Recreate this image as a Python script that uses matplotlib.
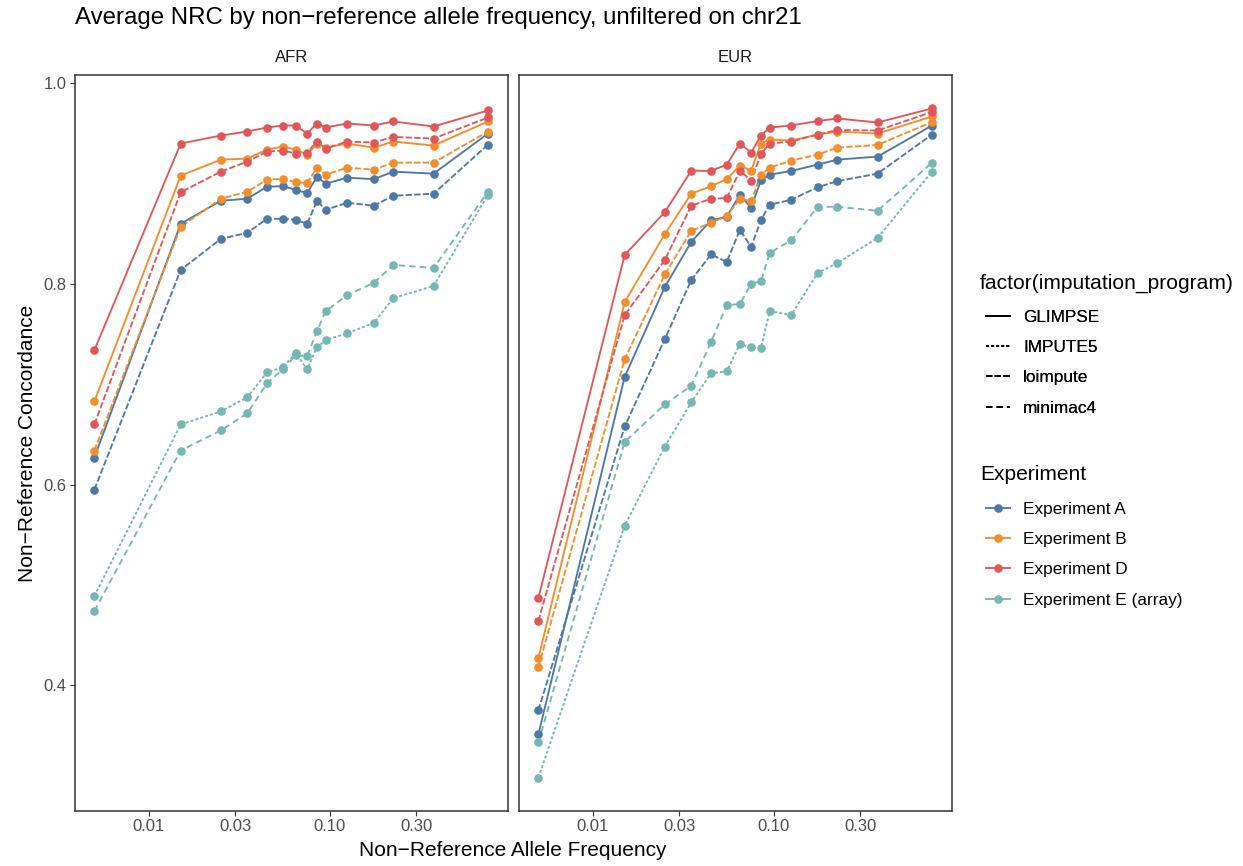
import numpy as np
import matplotlib.pyplot as plt
from matplotlib.lines import Line2D
from matplotlib.ticker import FixedLocator, FixedFormatter, NullLocator

plt.rcParams['font.family'] = ['Liberation Sans', 'DejaVu Sans']

# allele frequency bin midpoints
af_bins = [0.005, 0.015, 0.025, 0.035, 0.045, 0.055, 0.065, 0.075,
           0.085, 0.095, 0.125, 0.175, 0.225, 0.375, 0.75]

# mean NRC per bin, AFR
afr_a_glimpse = [0.627, 0.860, 0.883, 0.885, 0.897, 0.8975, 0.894, 0.8905, 0.907, 0.900, 0.906, 0.9045, 0.912, 0.910, 0.950]
afr_a_loimpute = [0.595, 0.814, 0.845, 0.851, 0.865, 0.865, 0.864, 0.860, 0.883, 0.874, 0.881, 0.878, 0.888, 0.890, 0.939]
afr_b_glimpse = [0.683, 0.908, 0.924, 0.925, 0.934, 0.937, 0.934, 0.929, 0.940, 0.936, 0.940, 0.936, 0.942, 0.938, 0.962]
afr_b_loimpute = [0.634, 0.857, 0.885, 0.892, 0.904, 0.905, 0.9015, 0.9005, 0.916, 0.909, 0.916, 0.914, 0.921, 0.921, 0.952]
afr_d_glimpse = [0.734, 0.940, 0.948, 0.952, 0.956, 0.958, 0.958, 0.950, 0.960, 0.956, 0.960, 0.958, 0.962, 0.957, 0.973]
afr_d_loimpute = [0.660, 0.8915, 0.912, 0.922, 0.932, 0.933, 0.930, 0.931, 0.942, 0.935, 0.942, 0.941, 0.9466, 0.945, 0.966]
afr_e_impute5 = [0.489, 0.660, 0.673, 0.687, 0.712, 0.717, 0.731, 0.715, 0.737, 0.744, 0.751, 0.761, 0.786, 0.798, 0.889]
afr_e_minimac4 = [0.474, 0.634, 0.654, 0.671, 0.701, 0.715, 0.729, 0.728, 0.753, 0.773, 0.789, 0.801, 0.819, 0.816, 0.892]

# mean NRC per bin, EUR
eur_a_glimpse = [0.351, 0.7075, 0.797, 0.842, 0.8634, 0.867, 0.889, 0.876, 0.9035, 0.909, 0.9127, 0.919, 0.924, 0.927, 0.958]
eur_a_loimpute = [0.375, 0.658, 0.745, 0.804, 0.8295, 0.822, 0.854, 0.837, 0.8637, 0.879, 0.884, 0.8965, 0.9025, 0.910, 0.949]
eur_b_glimpse = [0.427, 0.782, 0.8497, 0.890, 0.8975, 0.9045, 0.918, 0.913, 0.940, 0.944, 0.943, 0.949, 0.952, 0.950, 0.967]
eur_b_loimpute = [0.418, 0.725, 0.8096, 0.853, 0.861, 0.8677, 0.885, 0.8826, 0.909, 0.916, 0.923, 0.929, 0.936, 0.9386, 0.9615]
eur_d_glimpse = [0.487, 0.829, 0.8716, 0.913, 0.9127, 0.919, 0.940, 0.931, 0.948, 0.956, 0.958, 0.9625, 0.965, 0.961, 0.975]
eur_d_loimpute = [0.464, 0.769, 0.824, 0.878, 0.885, 0.8856, 0.913, 0.903, 0.9297, 0.940, 0.942, 0.949, 0.9535, 0.953, 0.9715]
eur_e_impute5 = [0.308, 0.559, 0.638, 0.682, 0.711, 0.713, 0.740, 0.737, 0.736, 0.773, 0.769, 0.811, 0.821, 0.846, 0.912]
eur_e_minimac4 = [0.343, 0.6425, 0.680, 0.6985, 0.742, 0.779, 0.780, 0.800, 0.803, 0.831, 0.8435, 0.877, 0.877, 0.873, 0.921]

experiments = ['Experiment A', 'Experiment B', 'Experiment D', 'Experiment E (array)']
programs = ['GLIMPSE', 'IMPUTE5', 'loimpute', 'minimac4']
x_ticks = [0.01, 0.03, 0.10, 0.30]
x_ticklabels = ['0.01', '0.03', '0.10', '0.30']
y_ticks = [0.4, 0.6, 0.8, 1.0]
y_ticklabels = ['0.4', '0.6', '0.8', '1.0']

colors = dict(zip(experiments, ['#4E79A7', '#F28E2B', '#E15759', '#76B7B2']))
# dash patterns in units of line width (R linetypes 22 / 42 / 44)
dashes = dict(zip(programs, [None, (1.6, 1.1), (3.4, 1.2), (3.4, 2.2)]))

panels = {
    'AFR': [('Experiment A', 'GLIMPSE', afr_a_glimpse), ('Experiment A', 'loimpute', afr_a_loimpute),
            ('Experiment B', 'GLIMPSE', afr_b_glimpse), ('Experiment B', 'loimpute', afr_b_loimpute),
            ('Experiment D', 'GLIMPSE', afr_d_glimpse), ('Experiment D', 'loimpute', afr_d_loimpute),
            ('Experiment E (array)', 'IMPUTE5', afr_e_impute5), ('Experiment E (array)', 'minimac4', afr_e_minimac4)],
    'EUR': [('Experiment A', 'GLIMPSE', eur_a_glimpse), ('Experiment A', 'loimpute', eur_a_loimpute),
            ('Experiment B', 'GLIMPSE', eur_b_glimpse), ('Experiment B', 'loimpute', eur_b_loimpute),
            ('Experiment D', 'GLIMPSE', eur_d_glimpse), ('Experiment D', 'loimpute', eur_d_loimpute),
            ('Experiment E (array)', 'IMPUTE5', eur_e_impute5), ('Experiment E (array)', 'minimac4', eur_e_minimac4)],
}

LW = 1.35
MS = 6.2
W, H = 1243, 866


def styled_line(ln, prog):
    if dashes[prog] is not None:
        ln.set_dashes(dashes[prog])
        ln.set_dash_capstyle('butt')
    return ln


# ggplot-style 5% expansion on both scales
allv = np.concatenate([np.array(s[2]) for p in panels.values() for s in p])
ypad = 0.05 * (allv.max() - allv.min())
ylim = (allv.min() - ypad, allv.max() + ypad)
lx = np.log10(af_bins)
xpad = 0.05 * (lx.max() - lx.min())
xlim = (10 ** (lx.min() - xpad), 10 ** (lx.max() + xpad))

fig = plt.figure(figsize=(W / 100, H / 100), dpi=100)
ax_afr = fig.add_axes([74.7 / W, 1 - 811 / H, 433 / W, 736 / H])
ax_eur = fig.add_axes([518.7 / W, 1 - 811 / H, 433 / W, 736 / H])

for ax, (name, series) in zip([ax_afr, ax_eur], panels.items()):
    for exp, prog, vals in series:
        ln, = ax.plot(af_bins, vals, color=colors[exp], lw=LW, zorder=2)
        styled_line(ln, prog)
    for exp, prog, vals in series:
        ax.scatter(af_bins, vals, s=MS ** 2, color=colors[exp], linewidths=0, zorder=3)

    ax.set_xscale('log')
    ax.set_xlim(*xlim)
    ax.set_ylim(*ylim)
    ax.xaxis.set_major_locator(FixedLocator(x_ticks))
    ax.xaxis.set_major_formatter(FixedFormatter(x_ticklabels))
    ax.xaxis.set_minor_locator(NullLocator())
    ax.yaxis.set_major_locator(FixedLocator(y_ticks))
    ax.tick_params(direction='out', length=3.3, width=0.8, color='#333333',
                   labelcolor='#4D4D4D', labelsize=12, pad=2.5)
    for sp in ax.spines.values():
        sp.set_color('#333333')
        sp.set_linewidth(1.1)
    ax.text(0.5, 1 + 17 / 736, name, transform=ax.transAxes, ha='center', va='center',
            fontsize=12, color='#1A1A1A')

ax_afr.yaxis.set_major_formatter(FixedFormatter(y_ticklabels))
ax_eur.tick_params(axis='y', left=False, labelleft=False)

ax_afr.set_ylabel('Non\u2212Reference Concordance', fontsize=15, labelpad=5)
fig.text(513 / W, 1 - 850 / H, 'Non\u2212Reference Allele Frequency', ha='center', va='center', fontsize=15)
fig.text(75 / W, 1 - 18 / H, 'Average NRC by non\u2212reference allele frequency, unfiltered on chr21',
         ha='left', va='center', fontsize=17.3)

# legends: linetype then colour, titles drawn separately so keys sit indented
fig.text(980 / W, 1 - 283 / H, 'factor(imputation_program)', ha='left', va='center', fontsize=15.1)
fig.text(980 / W, 1 - 474 / H, 'Experiment', ha='left', va='center', fontsize=15.1)

lt_handles = [styled_line(Line2D([], [], color='black', lw=LW), p) for p in programs]
leg_kw = dict(loc='upper left', frameon=False, fontsize=12.4, handlelength=1.4,
              handletextpad=0.75, labelspacing=0.88, borderpad=0, borderaxespad=0)
leg1 = fig.legend(lt_handles, programs, bbox_to_anchor=(986 / W, 1 - 310 / H), **leg_kw)
col_handles = [Line2D([], [], color=colors[e], lw=LW, marker='o', markersize=MS, markeredgewidth=0)
               for e in experiments]
leg2 = fig.legend(col_handles, experiments, bbox_to_anchor=(986 / W, 1 - 502 / H), **leg_kw)
fig.add_artist(leg1)

fig.savefig('out.png', dpi=100)
